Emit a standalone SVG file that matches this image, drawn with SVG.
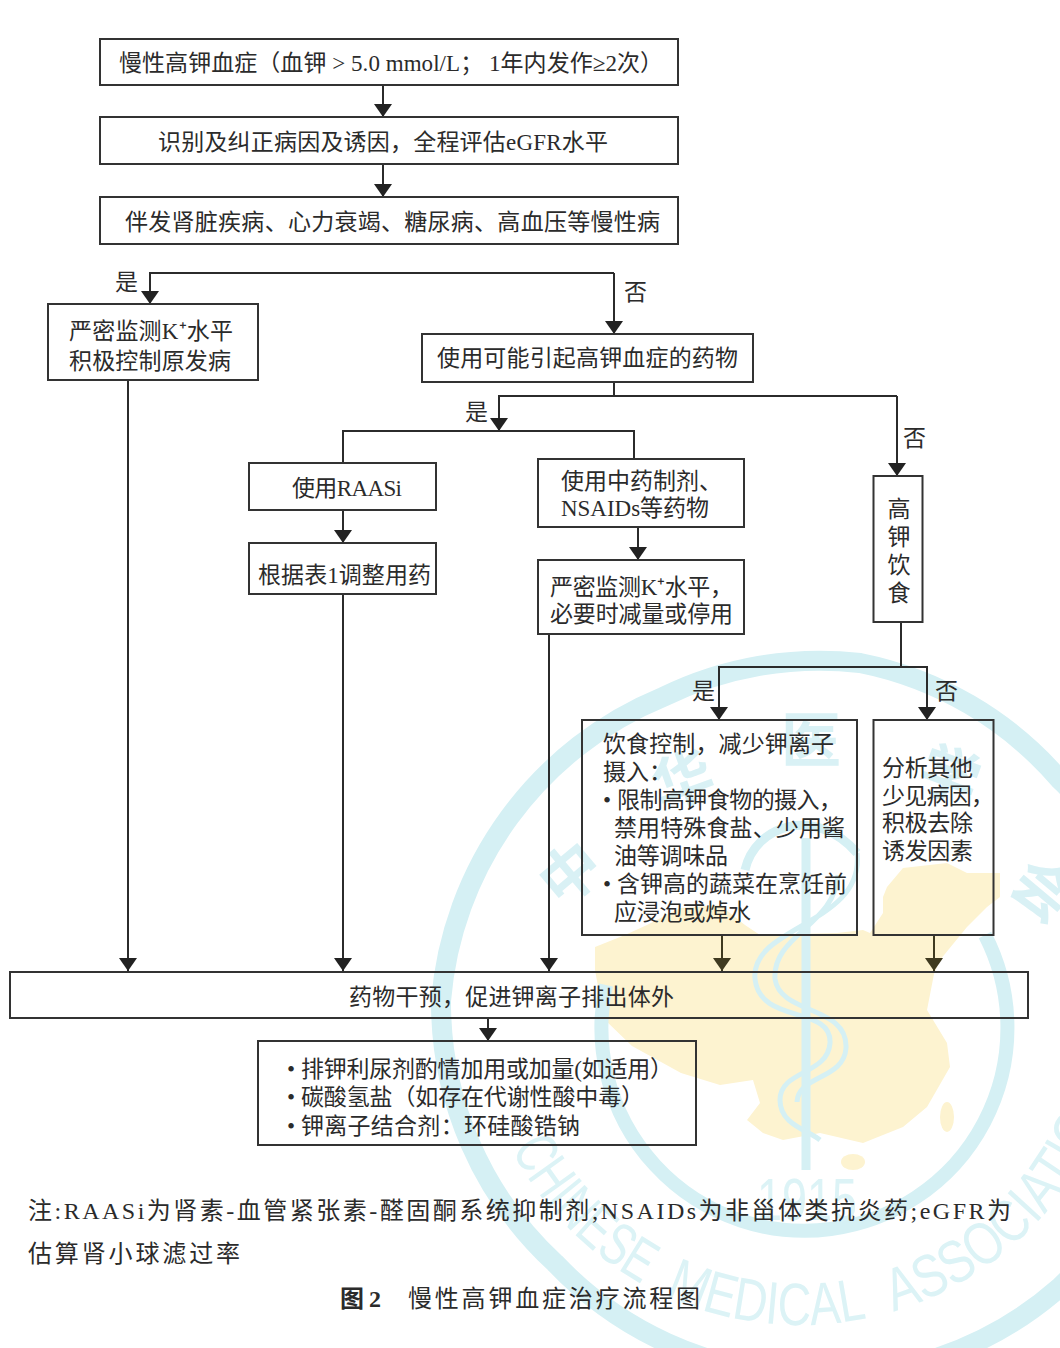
<svg xmlns="http://www.w3.org/2000/svg" width="1060" height="1348" viewBox="0 0 1060 1348">
<style>
text{font-family:"Liberation Serif","Noto Sans CJK SC",serif;font-size:23px;fill:#2b2b2b}
.box{fill:none;stroke:#333;stroke-width:2}
.ln{fill:none;stroke:#2b2b2b;stroke-width:2}
.ar{marker-end:url(#ah)}
.ol{fill:none;stroke:#3f3a20;stroke-width:2;marker-end:url(#ao)}
.wm{fill:none;stroke:#d5f0f4}
.wy{fill:#fdf3d0}
.wt{font-family:"Liberation Sans",sans-serif;fill:#dcf3f6;font-size:60px}
.wc{font-family:"Noto Sans CJK SC",sans-serif;fill:#d9f1f5;font-weight:700;font-size:60px}
.nt{font-size:24px}
</style>
<defs>
<marker id="ah" markerUnits="userSpaceOnUse" markerWidth="14" markerHeight="18" refX="13" refY="9" orient="auto"><path d="M0,0L13,9L0,18Z" fill="#222"/></marker>
<marker id="ao" markerUnits="userSpaceOnUse" markerWidth="14" markerHeight="18" refX="13" refY="9" orient="auto"><path d="M0,0L13,9L0,18Z" fill="#3f3a20"/></marker>
<path id="wp" d="M475,1000A325,325 0 0 0 1125,1000"/>
</defs>
<rect width="1060" height="1348" fill="#fff"/>
<g id="watermark">
<path class="wy" d="M595,947L625,935L647,925L680,908L720,905L745,925L760,935L837,933L863,930L870,933L883,913L883,897L887,887L903,868L947,863L967,873L1000,873L1000,897L987,907L967,927L940,960L934,974L927,1010L947,1043L950,1067L927,1107L903,1127L863,1143L820,1133L783,1140L763,1133L747,1120L760,1103L753,1080L720,1085L681,1073L632,1046L604,1019L595,970Z"/>
<ellipse class="wy" cx="853" cy="1162" rx="12" ry="8"/>
<ellipse class="wy" cx="947" cy="1117" rx="7" ry="15"/>
<path class="wm" stroke-width="20" d="M441,1001A360,360 0 0 1 663,697A355,355 0 0 1 860,663A355,355 0 0 1 1060,780A355,355 0 0 1 1170,1000A355,355 0 0 1 1060,1287A355,355 0 0 1 800,1375A360,360 0 0 1 555,1263A355,355 0 0 1 441,1001Z"/>
<path class="wm" stroke-width="14" d="M985,935A203,203 0 1 1 606,985"/>
<path class="wm" stroke-width="9" d="M806,838V1170"/>
<path class="wm" stroke-width="9" d="M745,870C755,825 815,805 857,853"/>
<path class="wm" stroke-width="5" d="M857,853C865,925 750,925 755,979C760,1025 832,1005 830,1043C828,1075 780,1070 780,1100C780,1125 808,1130 820,1140M838,875C835,925 772,935 775,979C780,1015 848,1005 846,1048C844,1080 798,1075 797,1102"/>
<text class="wc" transform="translate(570,873) rotate(-40)" text-anchor="middle" y="22">中</text>
<text class="wc" transform="translate(683,780) rotate(-20)" text-anchor="middle" y="22">华</text>
<text class="wc" x="811" y="762" text-anchor="middle">医</text>
<text class="wc" transform="translate(950,775) rotate(20)" text-anchor="middle" y="22">学</text>
<text class="wc" transform="translate(1043,890) rotate(40)" text-anchor="middle" y="22">会</text>
<text class="wt" x="807" y="1220" text-anchor="middle" textLength="100" lengthAdjust="spacingAndGlyphs">1915</text>
<text class="wt"><textPath href="#wp" startOffset="155" textLength="190" lengthAdjust="spacingAndGlyphs">CHINESE</textPath></text>
<text class="wt"><textPath href="#wp" startOffset="371" textLength="207" lengthAdjust="spacingAndGlyphs">MEDICAL</textPath></text>
<text class="wt"><textPath href="#wp" startOffset="605" textLength="325" lengthAdjust="spacingAndGlyphs">ASSOCIATION</textPath></text>
</g>
<g id="connectors">
<path class="ln ar" d="M383,86V117"/>
<path class="ln ar" d="M383,164V197"/>
<path class="ln ar" d="M614,273H150V304"/>
<path class="ln ar" d="M614,273V334"/>
<path class="ln" d="M614,382V396"/>
<path class="ln ar" d="M897,396H499V431"/>
<path class="ln ar" d="M897,396V476"/>
<path class="ln" d="M343,463V431H634V459"/>
<path class="ln ar" d="M343,510V543"/>
<path class="ln ar" d="M638,527V560"/>
<path class="ln ar" d="M128,380V971"/>
<path class="ln ar" d="M343,594V971"/>
<path class="ln ar" d="M549,634V971"/>
<path class="ln" d="M901,622V667"/>
<path class="ln ar" d="M901,667H719V720"/>
<path class="ln ar" d="M901,667H927V720"/>
<path class="ol" d="M722,935V971"/>
<path class="ol" d="M934,935V971"/>
<path class="ln ar" d="M488,1018V1041"/>
</g>
<g id="n1"><rect class="box" x="100" y="39" width="578" height="46"/><text x="119" y="71" textLength="544">慢性高钾血症（血钾 &gt; 5.0 mmol/L； 1年内发作≥2次）</text></g>
<g id="n2"><rect class="box" x="100" y="117" width="578" height="47"/><text x="158" y="150" textLength="450">识别及纠正病因及诱因，全程评估eGFR水平</text></g>
<g id="n3"><rect class="box" x="100" y="197" width="578" height="47"/><text x="125" y="230" textLength="535">伴发肾脏疾病、心力衰竭、糖尿病、高血压等慢性病</text></g>
<g id="l1"><text x="115" y="290">是</text></g>
<g id="l2"><text x="624" y="300">否</text></g>
<g id="n4"><rect class="box" x="48" y="304" width="210" height="76"/><text x="69" y="339" textLength="164">严密监测K⁺水平</text><text x="69" y="369" textLength="162">积极控制原发病</text></g>
<g id="n5"><rect class="box" x="422" y="334" width="331" height="48"/><text x="437" y="366" textLength="301">使用可能引起高钾血症的药物</text></g>
<g id="l3"><text x="465" y="420">是</text></g>
<g id="l4"><text x="903" y="446">否</text></g>
<g id="n6"><rect class="box" x="249" y="463" width="187" height="47"/><text x="292" y="496" textLength="110">使用RAASi</text></g>
<g id="n7"><rect class="box" x="249" y="543" width="187" height="51"/><text x="258" y="583" textLength="173">根据表1调整用药</text></g>
<g id="n8"><rect class="box" x="538" y="459" width="206" height="68"/><text x="561" y="489" textLength="161">使用中药制剂、</text><text x="561" y="516" textLength="148">NSAIDs等药物</text></g>
<g id="n9"><rect class="box" x="538" y="560" width="206" height="74"/><text x="550" y="595" textLength="183">严密监测K⁺水平，</text><text x="550" y="622" textLength="183">必要时减量或停用</text></g>
<g id="n10"><rect class="box" x="873.500" y="476" width="49" height="146"/><text x="899" y="517" text-anchor="middle">高</text><text x="899" y="545" text-anchor="middle">钾</text><text x="899" y="573" text-anchor="middle">饮</text><text x="899" y="601" text-anchor="middle">食</text></g>
<g id="l5"><text x="692" y="699">是</text></g>
<g id="l6"><text x="935" y="699">否</text></g>
<g id="n11"><rect class="box" x="582" y="720" width="275" height="215"/>
<text x="603" y="752" textLength="231">饮食控制，减少钾离子</text>
<text x="603" y="780">摄入：</text>
<text x="603" y="808">•</text><text x="617" y="808" textLength="225">限制高钾食物的摄入，</text>
<text x="614" y="836" textLength="231">禁用特殊食盐、少用酱</text>
<text x="614" y="864" textLength="114">油等调味品</text>
<text x="603" y="892">•</text><text x="617" y="892" textLength="230">含钾高的蔬菜在烹饪前</text>
<text x="614" y="920" textLength="137">应浸泡或焯水</text></g>
<g id="n12"><rect class="box" x="873.500" y="720" width="120" height="215"/>
<text x="882" y="776" textLength="91">分析其他</text>
<text x="882" y="804" textLength="112">少见病因，</text>
<text x="882" y="831" textLength="91">积极去除</text>
<text x="882" y="859" textLength="91">诱发因素</text></g>
<g id="n13"><rect class="box" x="10" y="972" width="1018" height="46"/><text x="349" y="1005" textLength="325">药物干预，促进钾离子排出体外</text></g>
<g id="n14"><rect class="box" x="258" y="1041" width="438" height="104"/>
<text x="287" y="1077">•</text><text x="301" y="1077" textLength="372">排钾利尿剂酌情加用或加量(如适用）</text>
<text x="287" y="1105">•</text><text x="301" y="1105" textLength="343">碳酸氢盐（如存在代谢性酸中毒）</text>
<text x="287" y="1134">•</text><text x="301" y="1134" textLength="279">钾离子结合剂：环硅酸锆钠</text></g>
<g id="notes">
<text class="nt" x="28" y="1219" textLength="983">注:RAASi为肾素-血管紧张素-醛固酮系统抑制剂;NSAIDs为非甾体类抗炎药;eGFR为</text>
<text class="nt" x="28" y="1262" textLength="212">估算肾小球滤过率</text>
<text class="nt" x="340" y="1307" font-weight="700" textLength="41">图2</text>
<text class="nt" x="408" y="1307" textLength="292">慢性高钾血症治疗流程图</text>
</g>
</svg>
